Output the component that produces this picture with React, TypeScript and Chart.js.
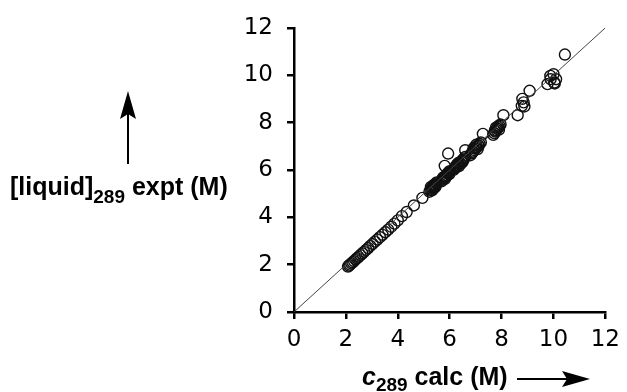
import React, { useEffect, useRef } from "react";
import { Chart, registerables } from "chart.js";

Chart.register(...registerables);

const tickValues = [0, 2, 4, 6, 8, 10, 12];
const identityLine = [0, 12];

const calcM = [
  2.08, 2.12, 2.16, 2.21, 2.26, 2.31, 2.37, 2.43, 2.49, 2.56, 2.63, 2.70, 2.78, 2.86, 2.94,
  3.03, 3.12, 3.21, 3.31, 3.41, 3.52, 3.63, 3.75, 3.87, 4.00, 4.16, 4.34, 4.62, 4.95,
  5.22, 5.26, 5.30, 5.33, 5.36, 5.40, 5.44, 5.48, 5.35, 5.28, 5.42, 5.50, 5.32, 5.38, 5.46,
  5.68, 5.72, 5.76, 5.80, 5.84, 5.88, 5.92, 5.96, 6.00, 5.78, 5.86, 5.94, 5.82, 5.74, 5.90, 5.98,
  5.81, 5.94, 6.60, 7.28,
  6.15, 6.20, 6.25, 6.30, 6.35, 6.40, 6.45, 6.50, 6.55, 6.60, 6.28, 6.42, 6.52, 6.36, 6.22, 6.48, 6.33,
  6.80, 6.85, 6.90, 6.95, 7.00, 7.05, 7.10, 7.15, 7.20, 6.92, 7.08, 7.02, 6.88, 7.12, 6.98,
  7.68, 7.72, 7.76, 7.80, 7.84, 7.88, 7.92, 7.96, 7.78, 7.90, 7.74, 7.86,
  8.07, 8.62, 8.78, 8.88, 8.85, 8.80, 9.08, 9.77, 9.88, 10.00, 10.03, 10.10, 9.89, 10.05, 10.44,
];

const exptM = [
  1.92, 1.96, 2.00, 2.05, 2.10, 2.15, 2.21, 2.27, 2.33, 2.40, 2.47, 2.54, 2.62, 2.70, 2.79,
  2.88, 2.97, 3.06, 3.16, 3.26, 3.37, 3.48, 3.60, 3.73, 3.87, 4.05, 4.22, 4.50, 4.82,
  5.08, 5.15, 5.20, 5.26, 5.30, 5.33, 5.38, 5.42, 5.22, 5.28, 5.25, 5.47, 5.14, 5.36, 5.31,
  5.52, 5.58, 5.63, 5.68, 5.73, 5.78, 5.84, 5.90, 5.95, 5.70, 5.72, 5.86, 5.62, 5.66, 5.76, 5.82,
  6.17, 6.69, 6.83, 7.52,
  6.00, 6.06, 6.12, 6.18, 6.24, 6.30, 6.36, 6.42, 6.48, 6.55, 6.22, 6.25, 6.38, 6.16, 6.14, 6.32, 6.29,
  6.62, 6.70, 6.77, 6.84, 6.90, 6.97, 7.04, 7.10, 7.16, 6.92, 6.88, 7.06, 6.76, 7.02, 6.96,
  7.48, 7.55, 7.62, 7.68, 7.74, 7.80, 7.86, 7.92, 7.78, 7.70, 7.66, 7.84,
  8.31, 8.31, 8.70, 8.68, 8.85, 9.00, 9.34, 9.62, 9.97, 10.04, 9.69, 9.83, 9.83, 9.65, 10.87,
];

const yTitleMain = "[liquid]";
const yTitleSub = "289";
const yTitleRest = " expt (M)";
const xTitleMain = "c";
const xTitleSub = "289";
const xTitleRest = " calc (M)";

const MAIN_FONT = 'bold 25px "Liberation Sans", Arial, sans-serif';
const ITALIC_FONT = 'italic bold 25px "Liberation Sans", Arial, sans-serif';
const SUB_FONT = 'bold 19px "Liberation Sans", Arial, sans-serif';

function drawArrowHead(ctx: CanvasRenderingContext2D, tipX: number, tipY: number, dirX: number, dirY: number) {
  const len = 28;
  const half = 8;
  const notch = 5;
  const px = -dirY;
  const py = dirX;
  const bx = tipX - dirX * len;
  const by = tipY - dirY * len;
  ctx.beginPath();
  ctx.moveTo(tipX, tipY);
  ctx.lineTo(bx + px * half, by + py * half);
  ctx.lineTo(tipX - dirX * (len - notch), tipY - dirY * (len - notch));
  ctx.lineTo(bx - px * half, by - py * half);
  ctx.closePath();
  ctx.fill();
}

const titlesPlugin = {
  id: "titlesPlugin",
  afterDraw(chart: any) {
    const ctx: CanvasRenderingContext2D = chart.ctx;
    ctx.save();
    ctx.fillStyle = "#000";
    ctx.strokeStyle = "#000";
    ctx.textAlign = "left";
    ctx.textBaseline = "alphabetic";

    // Y title
    let x = 10;
    ctx.font = MAIN_FONT;
    ctx.fillText(yTitleMain, x, 195);
    x += ctx.measureText(yTitleMain).width;
    ctx.font = SUB_FONT;
    ctx.fillText(yTitleSub, x, 203);
    x += ctx.measureText(yTitleSub).width;
    ctx.font = MAIN_FONT;
    ctx.fillText(yTitleRest, x, 195);

    // X title
    x = 362;
    ctx.font = ITALIC_FONT;
    ctx.fillText(xTitleMain, x, 385);
    x += ctx.measureText(xTitleMain).width;
    ctx.font = SUB_FONT;
    ctx.fillText(xTitleSub, x, 391);
    x += ctx.measureText(xTitleSub).width;
    ctx.font = MAIN_FONT;
    ctx.fillText(xTitleRest, x, 385);

    // Y arrow
    ctx.lineWidth = 2;
    ctx.beginPath();
    ctx.moveTo(128, 164);
    ctx.lineTo(128, 110);
    ctx.stroke();
    drawArrowHead(ctx, 128, 91, 0, -1);

    // X arrow
    ctx.beginPath();
    ctx.moveTo(517, 379);
    ctx.lineTo(570, 379);
    ctx.stroke();
    drawArrowHead(ctx, 590, 379, 1, 0);

    ctx.restore();
  },
};

export default function App() {
  const canvasRef = useRef<HTMLCanvasElement>(null);

  useEffect(() => {
    if (!canvasRef.current) return;
    const axisCommon = (size: "x" | "y") => ({
      type: "linear" as const,
      min: 0,
      max: 12,
      afterBuildTicks: (axis: any) => {
        axis.ticks = tickValues.map((v) => ({ value: v }));
      },
      grid: {
        drawOnChartArea: false,
        drawTicks: true,
        tickLength: 7,
        color: "#000",
        lineWidth: 2.5,
      },
      border: { display: true, color: "#000", width: 2.5 },
      ticks: {
        font: { family: '"DejaVu Sans", Verdana, sans-serif', size: 23 },
        color: "#000",
        padding: size === "x" ? 7 : 14,
        maxRotation: 0,
        autoSkip: false,
      },
      afterFit: (scale: any) => {
        if (size === "x") scale.height = 80;
        else scale.width = 294;
      },
    });

    const chart = new Chart(canvasRef.current, {
      type: "scatter",
      data: {
        datasets: [
          {
            data: identityLine.map((v) => ({ x: v, y: v })),
            showLine: true,
            borderColor: "#444",
            borderWidth: 1,
            pointRadius: 0,
            order: 1,
          } as any,
          {
            data: calcM.map((v, i) => ({ x: v, y: exptM[i] })),
            pointRadius: 5.5,
            pointBorderWidth: 1.4,
            borderColor: "#111",
            backgroundColor: "rgba(0,0,0,0)",
            order: 2,
          } as any,
        ],
      },
      options: {
        responsive: false,
        animation: false,
        layout: { padding: { left: 0, right: 15, top: 22, bottom: 0 } },
        plugins: { legend: { display: false }, tooltip: { enabled: false } },
        scales: {
          x: axisCommon("x") as any,
          y: axisCommon("y") as any,
        },
      },
      plugins: [titlesPlugin],
    });
    return () => chart.destroy();
  }, []);

  return (
    <div style={{ position: "fixed", left: 0, top: 0, width: 627, height: 392, background: "#fff" }}>
      <canvas ref={canvasRef} width={627} height={392} style={{ display: "block" }} />
    </div>
  );
}
